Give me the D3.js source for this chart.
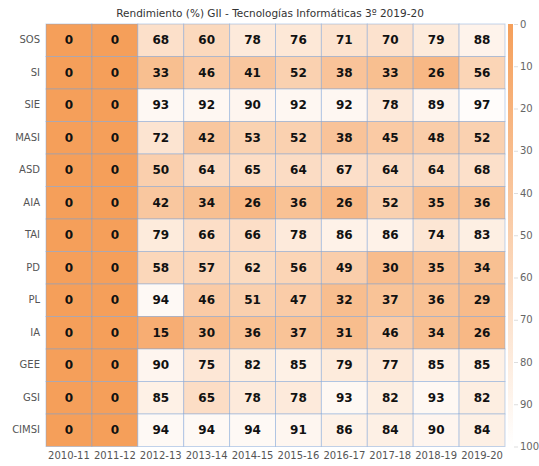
<!DOCTYPE html>
<html>
<head>
<meta charset="utf-8">
<script src="https://cdn.jsdelivr.net/npm/d3@7"></script>
<style>
  html, body { margin: 0; padding: 0; background: #fff; overflow: hidden; }
  svg { display: block; }
  text { font-family: "DejaVu Sans", sans-serif; }
</style>
</head>
<body>
<svg width="539" height="466"></svg>
<script>
// Chart data
const years = ['2010-11', '2011-12', '2012-13', '2013-14', '2014-15', '2015-16', '2016-17', '2017-18', '2018-19', '2019-20'];
const subjects = ['SOS', 'SI', 'SIE', 'MASI', 'ASD', 'AIA', 'TAI', 'PD', 'PL', 'IA', 'GEE', 'GSI', 'CIMSI'];
const values = [
    [0, 0, 68, 60, 78, 76, 71, 70, 79, 88],
    [0, 0, 33, 46, 41, 52, 38, 33, 26, 56],
    [0, 0, 93, 92, 90, 92, 92, 78, 89, 97],
    [0, 0, 72, 42, 53, 52, 38, 45, 48, 52],
    [0, 0, 50, 64, 65, 64, 67, 64, 64, 68],
    [0, 0, 42, 34, 26, 36, 26, 52, 35, 36],
    [0, 0, 79, 66, 66, 78, 86, 86, 74, 83],
    [0, 0, 58, 57, 62, 56, 49, 30, 35, 34],
    [0, 0, 94, 46, 51, 47, 32, 37, 36, 29],
    [0, 0, 15, 30, 36, 37, 31, 46, 34, 26],
    [0, 0, 90, 75, 82, 85, 79, 77, 85, 85],
    [0, 0, 85, 65, 78, 78, 93, 82, 93, 82],
    [0, 0, 94, 94, 94, 91, 86, 84, 90, 84]
];
const legendTicks = [0, 10, 20, 30, 40, 50, 60, 70, 80, 90, 100];

const svg = d3.select('svg');
const margin = { left: 46, top: 24 };
const innerWidth = 505 - margin.left;
const innerHeight = 446.5 - margin.top;

const g = svg.append('g')
    .attr('transform', `translate(${margin.left},${margin.top})`);

const xScale = d3.scaleBand().domain(years).range([0, innerWidth]);
const yScale = d3.scaleBand().domain(subjects).range([0, innerHeight]);
const color = d3.scaleLinear().domain([0, 100]).range(['#f59f5a', '#ffffff']);

// flatten rows into cells
const cells = [];
subjects.forEach((s, i) => years.forEach((y, j) => cells.push({ s, y, v: values[i][j] })));

g.selectAll('rect.cell')
    .data(cells)
    .enter()
    .append('rect')
    .attr('class', 'cell')
    .attr('x', d => xScale(d.y))
    .attr('y', d => yScale(d.s))
    .attr('width', xScale.bandwidth())
    .attr('height', yScale.bandwidth())
    .attr('fill', d => color(d.v))
    .attr('stroke', 'rgba(120,160,215,0.45)')
    .attr('stroke-width', 1);

g.selectAll('text.val')
    .data(cells)
    .enter()
    .append('text')
    .attr('class', 'val')
    .attr('x', d => xScale(d.y) + xScale.bandwidth() / 2)
    .attr('y', d => yScale(d.s) + yScale.bandwidth() / 2)
    .attr('text-anchor', 'middle')
    .attr('dy', '0.35em')
    .attr('font-size', 12)
    .attr('font-weight', 'bold')
    .attr('fill', '#111')
    .text(d => d.v);

// x axis
const xAxisGroup = g.append('g')
    .attr('transform', `translate(0,${innerHeight})`)
    .call(d3.axisBottom(xScale).tickSize(0).tickPadding(5));
xAxisGroup.select('.domain').remove();
xAxisGroup.selectAll('.tick text').attr('font-size', 10).attr('fill', '#555')
    .style('font-family', '"DejaVu Sans", sans-serif');

// y axis
const yAxisGroup = g.append('g')
    .call(d3.axisLeft(yScale).tickSize(0).tickPadding(6));
yAxisGroup.select('.domain').remove();
yAxisGroup.selectAll('.tick text').attr('font-size', 10).attr('fill', '#555')
    .style('font-family', '"DejaVu Sans", sans-serif');

// title
svg.append('text')
    .attr('x', 270)
    .attr('y', 17)
    .attr('text-anchor', 'middle')
    .attr('font-size', 10.5)
    .attr('fill', '#333')
    .text('Rendimiento (%) GII - Tecnologías Informáticas 3º 2019-20');

// colour bar
const defs = svg.append('defs');
const grad = defs.append('linearGradient')
    .attr('id', 'cbar')
    .attr('x1', 0).attr('y1', 0).attr('x2', 0).attr('y2', 1);
grad.append('stop').attr('offset', '0%').attr('stop-color', color(0));
grad.append('stop').attr('offset', '100%').attr('stop-color', color(100));

const barY = d3.scaleLinear().domain([0, 100]).range([margin.top, margin.top + innerHeight]);
svg.append('rect')
    .attr('x', 508)
    .attr('y', barY(0))
    .attr('width', 5)
    .attr('height', barY(100) - barY(0))
    .attr('fill', 'url(#cbar)');

const cbarAxis = svg.append('g')
    .attr('transform', 'translate(514,0)')
    .call(d3.axisRight(barY).tickValues(legendTicks).tickSize(4).tickPadding(2));
cbarAxis.select('.domain').remove();
cbarAxis.selectAll('.tick line').attr('stroke', '#ddd');
cbarAxis.selectAll('.tick text').attr('font-size', 10).attr('fill', '#666')
    .style('font-family', '"DejaVu Sans", sans-serif');
</script>
</body>
</html>
